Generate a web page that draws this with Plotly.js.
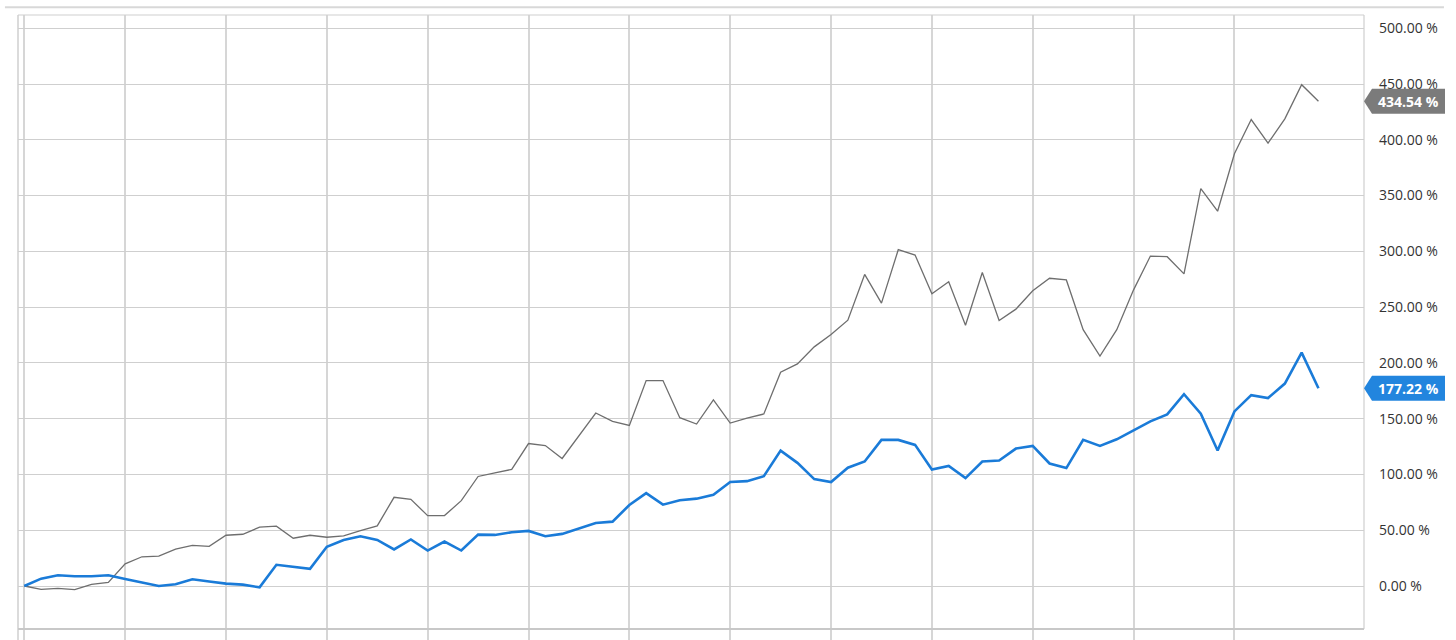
<!DOCTYPE html>
<html>
<head>
<meta charset="utf-8">
<script src="https://cdn.plot.ly/plotly-3.0.1.min.js"></script>
<style>
  html, body { margin: 0; padding: 0; background: #fff; }
  #chart { width: 1456px; height: 640px; }
</style>
</head>
<body>
<div id="chart"></div>
<script>
// Period index (monthly steps)
const periods = [0,1,2,3,4,5,6,7,8,9,10,11,12,13,14,15,16,17,18,19,20,21,22,23,24,25,26,27,28,29,
  30,31,32,33,34,35,36,37,38,39,40,41,42,43,44,45,46,47,48,49,50,51,52,53,54,55,56,57,58,59,
  60,61,62,63,64,65,66,67,68,69,70,71,72,73,74,75,76,77];

// Blue series (% return)
const blueSeries = [0,6.6,9.6,8.7,8.7,9.6,6.3,3.3,0,1.5,6,4,2.1,1.2,-1.2,19,17.2,15.4,35.2,41.3,
  44.6,41.3,32.8,41.7,31.8,39.9,31.8,46.1,45.8,48.2,49.4,44.6,46.7,51.5,56.5,57.7,72.6,83.3,72.9,76.8,
  78.3,81.8,93.2,94,98.5,121.4,110.4,95.8,93.2,106,111.6,131,131,126.5,104.5,107.7,96.7,111.6,112.5,123.2,
  125.6,109.8,105.7,131,125.6,131.5,139.6,147.6,153.9,172,154.5,121.4,156.5,171.1,168.5,181.5,209.2,177.22];

// Grey series (% return)
const greySeries = [0,-3,-2.1,-3.3,1.5,3.3,19.9,26.2,26.8,33.1,36.4,35.5,45.5,46.4,52.7,53.6,42.8,45.5,43.7,44.9,
  49.7,53.9,79.5,77.7,63.1,63.1,76.5,98.2,101.5,104.5,127.7,125.9,114.3,134.8,155.1,147.6,144,184.2,184.2,150.9,
  145.2,166.8,146.1,150.6,154.2,191.6,199.1,214.4,225.4,238.3,279.3,253.6,301.5,296.7,262,272.8,233.8,281.1,238,248.2,
  264.6,275.9,274.4,229.8,206.2,229.8,265.5,295.8,295.2,279.8,356.3,336,387.5,418.2,397,418.8,449.4,434.54];

const xGridTicks = [0,6,12,18,24,30,36,42,48,54,60,66,72];
const yTicks = [0,50,100,150,200,250,300,350,400,450,500];
const yTickLabels = ['0.00 %','50.00 %','100.00 %','150.00 %','200.00 %','250.00 %','300.00 %','350.00 %','400.00 %','450.00 %','500.00 %'];

const BLUE = '#1a7bd8';
const GREY_LINE = '#6e6e6e';
const GREY_BADGE = '#7b7b7b';
const BLUE_BADGE = '#2285de';
const GRID = '#cfcfcf';
const VGRID = '#d6d6d6';

const lastBlue = blueSeries[blueSeries.length - 1];
const lastGrey = greySeries[greySeries.length - 1];

const traces = [
  { x: periods, y: greySeries, type: 'scatter', mode: 'lines',
    line: { color: GREY_LINE, width: 1.3 }, hoverinfo: 'skip', name: 'grey' },
  { x: periods, y: blueSeries, type: 'scatter', mode: 'lines',
    line: { color: BLUE, width: 2.6 }, hoverinfo: 'skip', name: 'blue' }
];

const bottomPaper = -11 / 614;

function badge(yVal, color) {
  return {
    type: 'path', xref: 'paper', yref: 'y',
    xsizemode: 'pixel', ysizemode: 'pixel',
    xanchor: 1, yanchor: yVal,
    path: 'M 0 0 L 8 12.5 L 81 12.5 L 81 -12.5 L 8 -12.5 Z',
    fillcolor: color, line: { width: 0 }, layer: 'above'
  };
}

const layout = {
  width: 1456, height: 640,
  margin: { l: 18, r: 92, t: 15, b: 11, pad: 0 },
  paper_bgcolor: '#ffffff', plot_bgcolor: '#ffffff',
  showlegend: false,
  font: { family: 'Open Sans, sans-serif', size: 14, color: '#333' },
  xaxis: {
    range: [-0.375, 79.71],
    tickmode: 'array', tickvals: xGridTicks,
    showgrid: true, gridcolor: VGRID, gridwidth: 2,
    ticks: 'outside', ticklen: 11, tickwidth: 2, tickcolor: VGRID,
    showticklabels: false, zeroline: false, showline: false, fixedrange: true
  },
  yaxis: {
    range: [-38.55, 511.9],
    side: 'right',
    tickmode: 'array', tickvals: yTicks, ticktext: yTickLabels,
    showgrid: true, gridcolor: GRID, gridwidth: 1,
    zeroline: false, showline: false, ticks: '',
    ticklabelstandoff: 14,
    tickfont: { family: 'Open Sans, sans-serif', size: 14, color: '#333' },
    fixedrange: true
  },
  shapes: [
    // outer top rule
    { type: 'line', xref: 'paper', yref: 'paper', x0: -0.0097, x1: 1.0594, y0: 1.0125, y1: 1.0125,
      line: { color: '#d8d8d8', width: 2 } },
    // frame
    { type: 'line', xref: 'paper', yref: 'paper', x0: 0, x1: 1, y0: 1, y1: 1,
      line: { color: GRID, width: 1.2 } },
    { type: 'line', xref: 'paper', yref: 'paper', x0: 0, x1: 0, y0: bottomPaper, y1: 1,
      line: { color: GRID, width: 1.5 } },
    { type: 'line', xref: 'paper', yref: 'paper', x0: 1, x1: 1, y0: 0, y1: 1,
      line: { color: GRID, width: 1.2 } },
    { type: 'line', xref: 'paper', yref: 'paper', x0: 0, x1: 1, y0: 0, y1: 0,
      line: { color: '#c8c8c8', width: 2 } },
    badge(lastGrey, GREY_BADGE),
    badge(lastBlue, BLUE_BADGE)
  ],
  annotations: [
    { xref: 'paper', yref: 'y', x: 1.0331, y: lastGrey, xanchor: 'center', yanchor: 'middle',
      text: '<b>' + lastGrey.toFixed(2) + ' %</b>', showarrow: false,
      font: { family: 'Open Sans, sans-serif', size: 14, color: '#ffffff' } },
    { xref: 'paper', yref: 'y', x: 1.0331, y: lastBlue, xanchor: 'center', yanchor: 'middle',
      text: '<b>' + lastBlue.toFixed(2) + ' %</b>', showarrow: false,
      font: { family: 'Open Sans, sans-serif', size: 14, color: '#ffffff' } }
  ]
};

Plotly.newPlot('chart', traces, layout, { displayModeBar: false, staticPlot: true });
</script>
</body>
</html>
